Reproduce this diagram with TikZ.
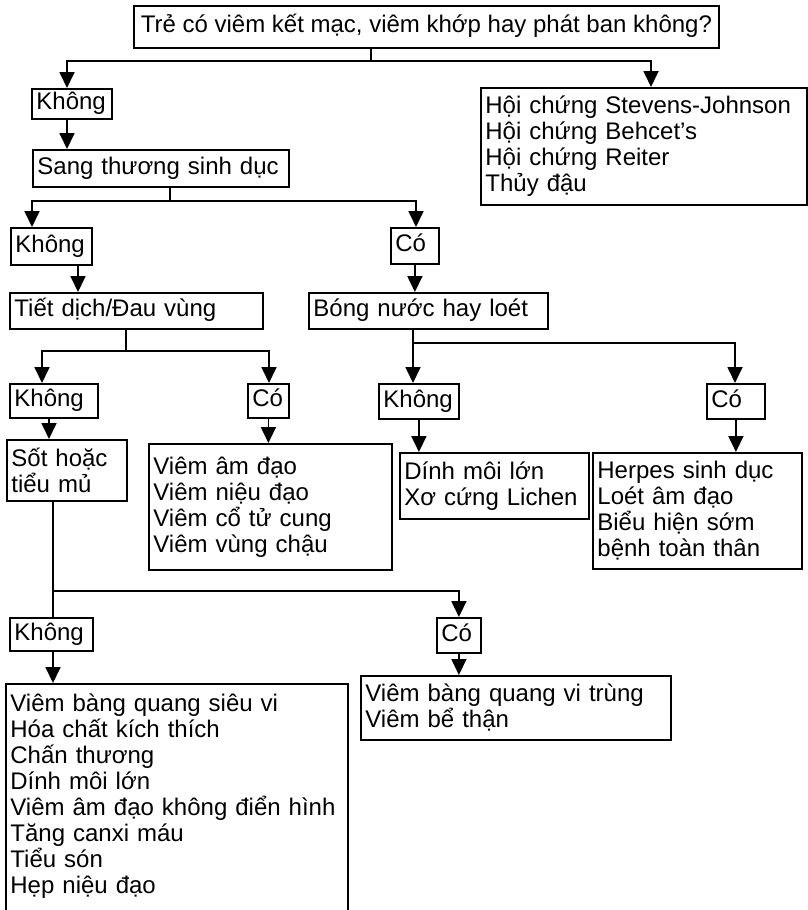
\documentclass[tikz,border=0pt]{standalone}
\usepackage{fontspec}
\setmainfont{Liberation Sans}
\usetikzlibrary{arrows.meta}

\begin{document}
\begin{tikzpicture}
		[x=1pt, y=-1pt,
		box/.style={rectangle,draw=black,line width=1.8pt,inner xsep=4.5pt,inner ysep=0pt,anchor=north west,align=left,font=\fontsize{24}{26}\selectfont},
		oneline/.style={box,text height=17pt,text depth=5pt},
		arr/.style={-{Triangle[length=16pt,width=15pt]},line width=1.8pt},
		stemline/.style={line width=1.2pt},
		barline/.style={line width=1.8pt}]
		\useasboundingbox (0,0) rectangle (808,910);
		\clip (0,0) rectangle (808,910);

		\node [oneline, align=center, minimum width=585pt, minimum height=42pt] (q) at (133,5) {Trẻ có viêm kết mạc, viêm khớp hay phát ban không?};
		\node [oneline, text width=71pt, minimum height=30pt] (kh1) at (31,88) {Không};
		\node [box, text width=317pt, minimum height=117pt] (syn) at (480,87) {Hội chứng Stevens-Johnson\\Hội chứng Behcet’s\\Hội chứng Reiter\\Thủy đậu};
		\node [oneline, text width=247pt, minimum height=37pt] (sang) at (32,149) {Sang thương sinh dục};

		\node [oneline, text width=72pt, minimum height=37pt] (kh2) at (10,227) {Không};
		\node [oneline, text width=39pt, minimum height=36pt] (co2) at (390,227) {Có};
		\node [oneline, text width=244pt, minimum height=36pt] (tiet) at (9,292) {Tiết dịch/Đau vùng};
		\node [oneline, text width=230pt, minimum height=36pt] (bong) at (308,292) {Bóng nước hay loét};

		\node [oneline, text width=79pt, minimum height=34pt] (kh3) at (9,383) {Không};
		\node [oneline, text width=32pt, minimum height=34pt] (co3) at (247,383) {Có};
		\node [oneline, text width=71pt, minimum height=35pt] (kh3m) at (378,383) {Không};
		\node [oneline, text width=49pt, minimum height=35pt] (co3r) at (706,383) {Có};

		\node [box, text width=111pt, minimum height=61pt] (sot) at (6,439) {Sốt hoặc\\tiểu mủ};
		\node [box, text width=234pt, minimum height=126pt] (vad) at (148,443) {Viêm âm đạo\\Viêm niệu đạo\\Viêm cổ tử cung\\Viêm vùng chậu};
		\node [box, text width=180pt, minimum height=66pt] (dinh) at (399,452) {Dính môi lớn\\Xơ cứng Lichen};
		\node [box, text width=200pt, minimum height=116pt] (herp) at (592,452) {Herpes sinh dục\\Loét âm đạo\\Biểu hiện sớm\\bệnh toàn thân};

		\node [oneline, text width=74pt, minimum height=33pt] (kh4) at (9,617) {Không};
		\node [oneline, text width=35pt, minimum height=35pt] (co4) at (436,617) {Có};
		\node [box, text width=333pt, inner ysep=10pt] (big) at (5,683) {Viêm bàng quang siêu vi\\Hóa chất kích thích\\Chấn thương\\Dính môi lớn\\Viêm âm đạo không điển hình\\Tăng canxi máu\\Tiểu són\\Hẹp niệu đạo\rule[-60pt]{0pt}{60pt}};
		\node [box, text width=301pt, minimum height=64pt] (vbq) at (360,675) {Viêm bàng quang vi trùng\\Viêm bể thận};

		\coordinate (j1) at (371,61);
		\coordinate (j1l) at (67,61);
		\coordinate (j1r) at (651,61);
		\draw [stemline] (q.south -| j1) -- (j1);
		\draw [arr] (j1) -| (kh1.north -| j1l);
		\draw [arr] (j1) -| (syn.north -| j1r);
		\draw [arr] (kh1.south -| j1l) -- (sang.north -| j1l);

		\coordinate (j2) at (170,201);
		\coordinate (j2l) at (32,201);
		\coordinate (j2r) at (416,201);
		\coordinate (x2) at (78,264);
		\draw [stemline] (sang.south -| j2) -- (j2);
		\draw [arr] (j2) -| (kh2.north -| j2l);
		\draw [arr] (j2) -| (co2.north -| j2r);
		\draw [arr] (kh2.south -| x2) -- (tiet.north -| x2);
		\draw [arr] (co2) -- (co2 |- bong.north);

		\coordinate (j3) at (126,351);
		\coordinate (j3l) at (42,351);
		\coordinate (j3r) at (269,351);
		\coordinate (j4) at (413,343);
		\coordinate (j4r) at (735,343);
		\draw [stemline] (tiet.south -| j3) -- (j3);
		\draw [arr] (j3) -| (kh3.north -| j3l);
		\draw [arr] (j3) -| (co3.north -| j3r);
		\draw [arr] (bong.south -| j4) -- (kh3m.north -| j4);
		\draw [arr] (j4) -| (co3r.north -| j4r);

		\coordinate (x3) at (49,417);
		\draw [arr] (kh3.south -| x3) -- (sot.north -| x3);
		\draw [arr] (co3) -- (co3 |- vad.north);
		\draw [arr] (kh3m) -- (kh3m |- dinh.north);
		\draw [arr] (co3r) -- (co3r |- herp.north);

		\coordinate (j5) at (53,591);
		\draw [barline] (sot.south -| j5) -- (kh4.north -| j5);
		\draw [arr] (j5) -| (co4);
		\draw [arr] (kh4.south -| j5) -- (big.north -| j5);
		\draw [arr] (co4) -- (co4 |- vbq.north);
	\end{tikzpicture}
\end{document}
